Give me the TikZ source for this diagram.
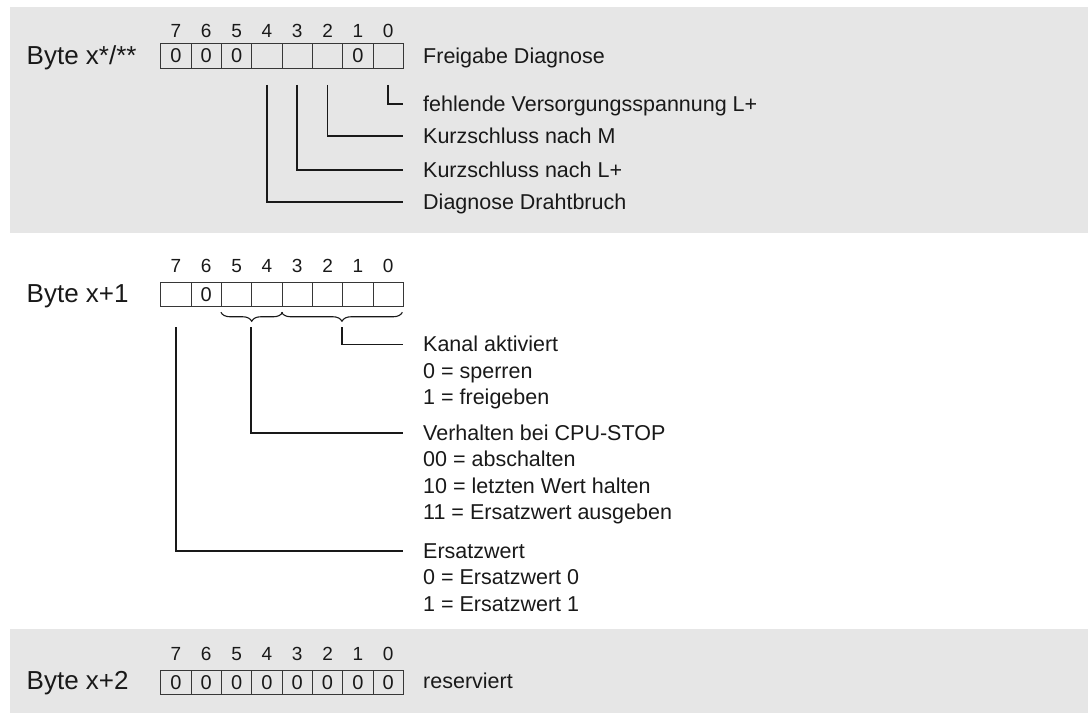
\documentclass[tikz,border=0pt]{standalone}
\usepackage{fontspec}
\setmainfont{Liberation Sans}
\usepackage{xcolor}
\usepackage{tikz}
\usetikzlibrary{positioning, decorations.pathreplacing}
\definecolor{panelgray}{RGB}{230,230,230}
\definecolor{inkgray}{RGB}{25,25,25}
\definecolor{boxgray}{RGB}{55,55,55}
\tikzset{
  cell/.style={draw=boxgray, line width=1pt, minimum width=30.33pt, minimum height=24.5pt, inner sep=0pt, font=\fontsize{20}{20}\selectfont, text=inkgray},
  bitnum/.style={anchor=base, inner sep=0pt, font=\fontsize{19}{19}\selectfont, text=inkgray},
  bytelabel/.style={anchor=base west, inner sep=0pt, font=\fontsize{26}{26}\selectfont, text=inkgray},
  desc/.style={anchor=west, inner sep=0pt, text height=14.5pt, text depth=0pt, font=\fontsize{21.5}{21.5}\selectfont, text=inkgray},
  leader/.style={draw=inkgray, line width=1.8pt},
  bitbrace/.style={draw=inkgray, line width=1.1pt, decorate, decoration={brace, mirror, amplitude=9pt}}
}
\begin{document}
\begin{tikzpicture}[x=1pt, y=-1pt]
\useasboundingbox (0,0) rectangle (1090,713);
\fill[panelgray] (10,7) rectangle (1088,233);
\fill[panelgray] (10,629) rectangle (1088,713);

\node[bytelabel] (bytea) at (26.5,64) {Byte x*/**};
\foreach \b/\v in {7/0,6/0,5/0,4/{},3/{},2/{},1/0,0/{}}
  \node[cell] (a\b) at ({175.9+(7-\b)*30.33},56) {\v};
\foreach \b in {0,...,7}
  \node[bitnum] (na\b) at ({175.9+(7-\b)*30.33},37.7) {\b};
\node[desc] (frei) at (423,56) {Freigabe Diagnose};
\node[desc] (fehl) at (423,104) {fehlende Versorgungsspannung L+};
\node[desc] (kurzm) at (423,136) {Kurzschluss nach M};
\node[desc] (kurzl) at (423,170) {Kurzschluss nach L+};
\node[desc] (draht) at (423,202) {Diagnose Drahtbruch};
\draw[leader] ([yshift=-16pt]a0.south) |- ([xshift=-20pt]fehl.west);
\draw[leader] ([yshift=-16pt]a2.south) |- ([xshift=-20pt]kurzm.west);
\draw[leader] ([yshift=-16pt]a3.south) |- ([xshift=-20pt]kurzl.west);
\draw[leader] ([yshift=-16pt]a4.south) |- ([xshift=-20pt]draht.west);

\node[bytelabel] (byteb) at (26.5,302.7) {Byte x+1};
\foreach \b/\v in {7/{},6/0,5/{},4/{},3/{},2/{},1/{},0/{}}
  \node[cell] (b\b) at ({175.9+(7-\b)*30.33},294.5) {\v};
\foreach \b in {0,...,7}
  \node[bitnum] (nb\b) at ({175.9+(7-\b)*30.33},272.7) {\b};
\draw[bitbrace] ([yshift=-5pt]b5.south west) -- ([yshift=-5pt]b4.south east);
\draw[bitbrace] ([yshift=-5pt]b3.south west) -- ([yshift=-5pt, xshift=-1.5pt]b0.south east);
\node[desc] (kanal) at (423,344.5) {Kanal aktiviert};
\node[desc] (kanal0) at (423,371) {0 = sperren};
\node[desc] (kanal1) at (423,397.5) {1 = freigeben};
\node[desc] (verh) at (423,433) {Verhalten bei CPU-STOP};
\node[desc] (verh00) at (423,459.5) {00 = abschalten};
\node[desc] (verh10) at (423,486) {10 = letzten Wert halten};
\node[desc] (verh11) at (423,512.5) {11 = Ersatzwert ausgeben};
\node[desc] (ersatz) at (423,551) {Ersatzwert};
\node[desc] (ersatz0) at (423,577.5) {0 = Ersatzwert 0};
\node[desc] (ersatz1) at (423,604) {1 = Ersatzwert 1};
\draw[leader] ([yshift=-20pt]b1.south west) |- ([xshift=-20pt]kanal.west);
\draw[leader] ([yshift=-20pt]b4.south west) |- ([xshift=-20pt]verh.west);
\draw[leader] ([yshift=-20pt]b7.south) |- ([xshift=-20pt]ersatz.west);

\node[bytelabel] (bytec) at (26.5,689) {Byte x+2};
\foreach \b in {0,...,7}
  \node[cell] (c\b) at ({175.9+(7-\b)*30.33},682.5) {0};
\foreach \b in {0,...,7}
  \node[bitnum] (nc\b) at ({175.9+(7-\b)*30.33},660) {\b};
\node[desc] (reserv) at (423,681) {reserviert};
\end{tikzpicture}
\end{document}
